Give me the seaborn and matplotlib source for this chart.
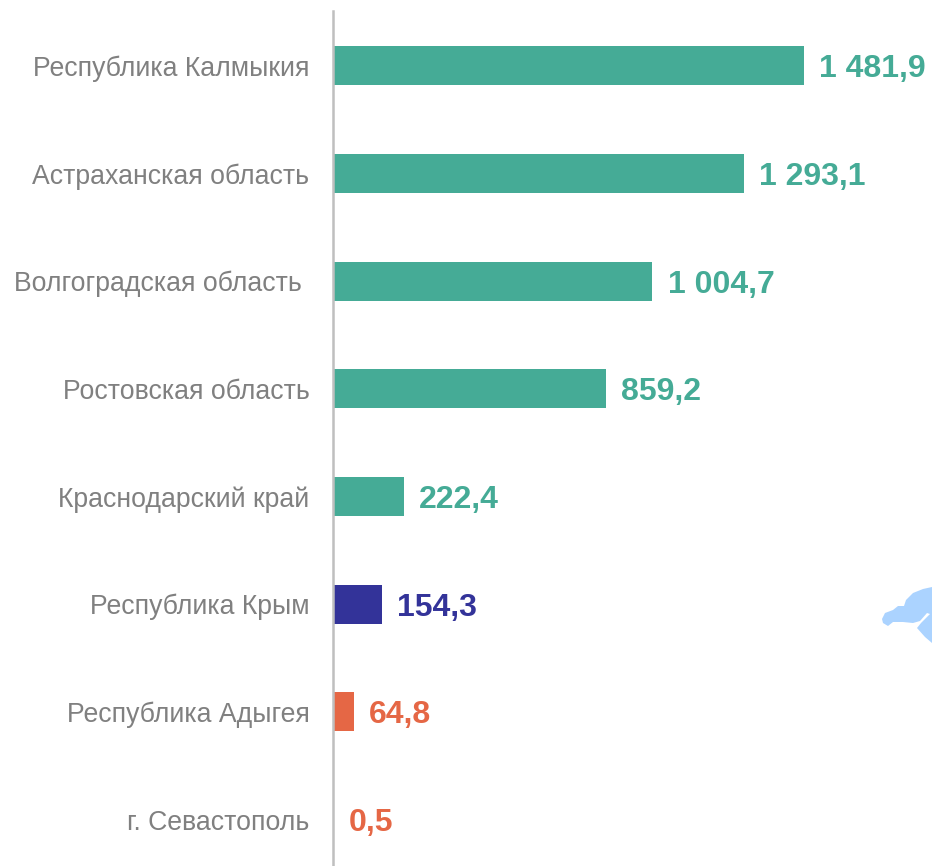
import matplotlib
matplotlib.use('Agg')
import matplotlib.pyplot as plt
import seaborn as sns
import pandas as pd
from matplotlib.patches import Polygon

regions = ['Республика Калмыкия', 'Астраханская область', 'Волгоградская область ',
           'Ростовская область', 'Краснодарский край', 'Республика Крым',
           'Республика Адыгея', 'г. Севастополь']
values = [1481.9, 1293.1, 1004.7, 859.2, 222.4, 154.3, 64.8, 0.5]
labels = ['1 481,9', '1 293,1', '1 004,7', '859,2', '222,4', '154,3', '64,8', '0,5']
colors = ['#45AB96', '#45AB96', '#45AB96', '#45AB96', '#45AB96', '#333399', '#E56745', '#E56745']

sns.set_theme(style='white')
plt.rcParams['font.family'] = ['Liberation Sans', 'DejaVu Sans']

df = pd.DataFrame({'region': regions, 'value': values})

fig = plt.figure(figsize=(9.32, 8.66), dpi=100)
ax = fig.add_axes([333 / 932, 0, 1 - 333 / 932, 1 - 11 / 866])

sns.barplot(data=df, x='value', y='region', hue='region', palette=colors,
            width=0.362, legend=False, ax=ax, saturation=1, linewidth=0)

ax.set_xlim(0, 599 / 471 * 1481.9)
ax.set_ylim(7.43, -0.507)
ax.set_xlabel('')
ax.set_ylabel('')
ax.set_xticks([])
sns.despine(ax=ax, top=True, right=True, bottom=True)
ax.spines['left'].set_color('#BFBFBF')
ax.spines['left'].set_linewidth(1.8)
ax.tick_params(axis='y', length=0, pad=17, labelsize=19.2, labelcolor='#808080')

for i, (v, lab, c) in enumerate(zip(values, labels, colors)):
    ax.annotate(lab, (v, i), xytext=(11, -8.3), textcoords='offset points', va='baseline',
                ha='left', fontsize=23, fontweight='bold', color=c)

# light blue map fragment at the right edge
shape = [(882, 619), (885, 613), (893, 610), (898, 606), (904, 606), (906, 600),
         (913, 593), (923, 589), (932, 587), (932, 643), (925, 637), (917, 628),
         (921, 623), (930, 614), (927, 613), (920, 621), (913, 623), (903, 622),
         (893, 622), (888, 626), (883, 623)]
fig.add_artist(Polygon([(x / 932, 1 - y / 866) for x, y in shape], closed=True,
                       transform=fig.transFigure, facecolor='#ABD3FF', edgecolor='none'))

fig.savefig('out.png', dpi=100)
